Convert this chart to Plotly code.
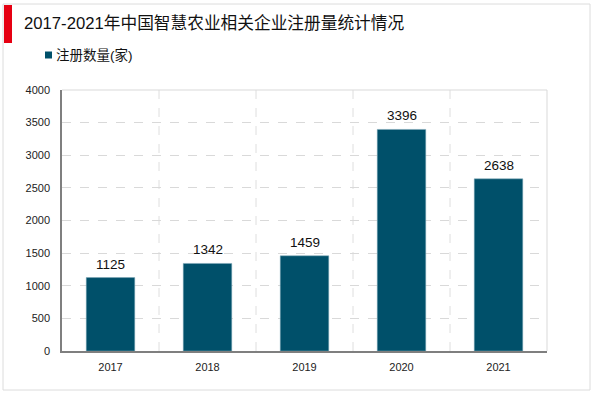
import plotly.graph_objects as go

categories = ["2017", "2018", "2019", "2020", "2021"]
values = [1125, 1342, 1459, 3396, 2638]
series_name = "注册数量(家)"
title_text = "2017-2021年中国智慧农业相关企业注册量统计情况"
y_ticks = [0, 500, 1000, 1500, 2000, 2500, 3000, 3500, 4000]

BAR = "#00506A"
FONT = "Liberation Sans, Arial, Noto Sans CJK SC, sans-serif"

W, H = 600, 393
ML, MR, MT, MB = 62, 53, 90, 42
PW, PH = W - ML - MR, H - MT - MB

def px_x(p):
    return (p - ML) / PW

def px_y(p):
    return (H - MB - p) / PH

fig = go.Figure()
fig.add_trace(go.Bar(
    x=categories, y=values, name=series_name,
    marker=dict(color=BAR, line=dict(color="#7fa8b8", width=0.5)),
    width=0.5,
))

shapes = []
for i in range(len(categories) - 1):
    shapes.append(dict(type="line", xref="x", yref="paper", x0=i + 0.5, x1=i + 0.5, y0=0, y1=1,
                       line=dict(color="#dedede", width=1, dash="dash"), layer="below"))
shapes.append(dict(type="line", xref="paper", yref="paper", x0=0, x1=1, y0=1, y1=1,
                   line=dict(color="#d9d9d9", width=1)))
shapes.append(dict(type="line", xref="paper", yref="paper", x0=1, x1=1, y0=0, y1=1,
                   line=dict(color="#d9d9d9", width=1)))
shapes.append(dict(type="rect", xref="paper", yref="paper",
                   x0=px_x(3), x1=px_x(590), y0=px_y(390), y1=px_y(4),
                   line=dict(color="#dcdcdc", width=1), fillcolor="rgba(0,0,0,0)"))
shapes.append(dict(type="rect", xref="paper", yref="paper",
                   x0=px_x(4), x1=px_x(12), y0=px_y(43), y1=px_y(5),
                   line=dict(width=0), fillcolor="#e60012"))
shapes.append(dict(type="rect", xref="paper", yref="paper",
                   x0=px_x(45), x1=px_x(52), y0=px_y(58.5), y1=px_y(51.5),
                   line=dict(width=0), fillcolor=BAR))

annotations = [
    dict(text=title_text, xref="paper", yref="paper", x=px_x(22), y=px_y(23),
         xanchor="left", yanchor="middle", showarrow=False,
         font=dict(size=16.7, color="#111111", family=FONT)),
    dict(text=series_name, xref="paper", yref="paper", x=px_x(54), y=px_y(55),
         xanchor="left", yanchor="middle", showarrow=False,
         font=dict(size=13.5, color="#111111", family=FONT)),
]
for i, v in enumerate(values):
    annotations.append(dict(text=str(v), xref="x", yref="y", x=i, y=v,
                            xanchor="center", yanchor="bottom", yshift=4, showarrow=False,
                            font=dict(size=13.5, color="#111111", family=FONT)))

fig.update_layout(
    width=W, height=H,
    margin=dict(l=ML, r=MR, t=MT, b=MB),
    paper_bgcolor="white", plot_bgcolor="white",
    showlegend=False,
    shapes=shapes, annotations=annotations,
    bargap=0.5,
    font=dict(family=FONT, size=11, color="#222222"),
)
fig.update_xaxes(
    type="category", range=[-0.5, len(categories) - 0.5],
    showline=True, linecolor="#7f7f7f", linewidth=1.5,
    showgrid=False, ticks="", ticklabelstandoff=5,
    tickfont=dict(size=11, color="#222222", family=FONT),
)
fig.update_yaxes(
    range=[0, 4000], tickvals=y_ticks,
    showline=True, linecolor="#7f7f7f", linewidth=1.5,
    showgrid=True, gridcolor="#d9d9d9", griddash="dash", gridwidth=1,
    zeroline=False, ticks="", ticklabelstandoff=8,
    tickfont=dict(size=11, color="#222222", family=FONT),
)

fig.write_html("out.html", config={"displayModeBar": False},
               post_script="document.body.style.margin='0';document.body.style.overflow='hidden';")
